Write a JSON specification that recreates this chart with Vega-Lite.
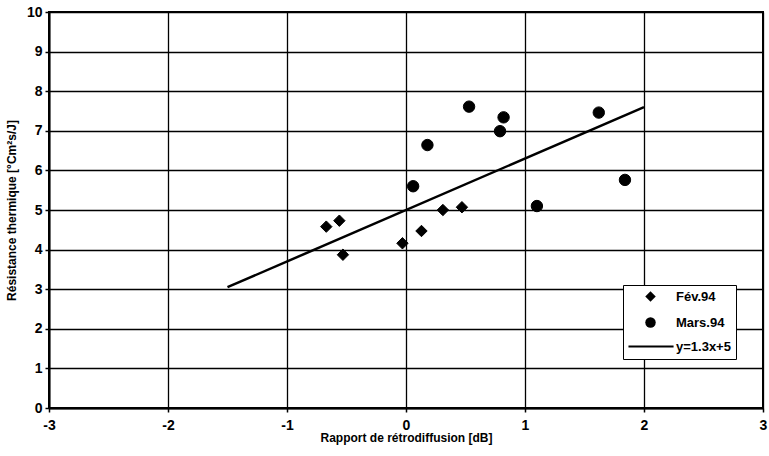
{
  "$schema": "https://vega.github.io/schema/vega-lite/v6.json",
  "width": 714,
  "height": 396,
  "autosize": "none",
  "padding": {"left": 49, "top": 12, "right": 6, "bottom": 48},
  "background": "white",
  "config": {
    "view": {"stroke": "black", "strokeWidth": 2},
    "font": "Liberation Sans",
    "axis": {
      "gridColor": "black", "gridOpacity": 1, "gridWidth": 1.3,
      "domainColor": "black", "domainWidth": 2,
      "tickColor": "black", "tickWidth": 1.5, "tickSize": 4,
      "labelFont": "Liberation Sans", "labelFontWeight": "bold", "labelFontSize": 14, "labelColor": "black",
      "titleFont": "Liberation Sans", "titleFontWeight": "bold", "titleFontSize": 12, "titleColor": "black"
    }
  },
  "layer": [
    {
      "data": {"values": [
        {"x": -1.5, "y": 3.05},
        {"x": 2.0, "y": 7.6}
      ]},
      "mark": {"type": "line", "color": "black", "strokeWidth": 2.5},
      "encoding": {
        "x": {
          "field": "x", "type": "quantitative",
          "scale": {"domain": [-3, 3], "nice": false, "zero": false},
          "axis": {"title": "Rapport de rétrodiffusion [dB]", "values": [-3, -2, -1, 0, 1, 2, 3], "labelExpr": "'' + datum.value", "labelPadding": 6, "titlePadding": 0, "labelFlush": false}
        },
        "y": {
          "field": "y", "type": "quantitative",
          "scale": {"domain": [0, 10], "nice": false},
          "axis": {"title": "Résistance thermique [°Cm²s/J]", "values": [0,1,2,3,4,5,6,7,8,9,10], "labelPadding": 3, "titlePadding": 8}
        }
      }
    },
    {
      "data": {"values": [
        {"x": -0.67, "y": 4.58, "series": "Fév.94"},
        {"x": -0.56, "y": 4.73, "series": "Fév.94"},
        {"x": -0.53, "y": 3.87, "series": "Fév.94"},
        {"x": -0.03, "y": 4.16, "series": "Fév.94"},
        {"x": 0.13, "y": 4.47, "series": "Fév.94"},
        {"x": 0.31, "y": 5.0, "series": "Fév.94"},
        {"x": 0.47, "y": 5.07, "series": "Fév.94"},
        {"x": 0.06, "y": 5.6, "series": "Mars.94"},
        {"x": 0.18, "y": 6.64, "series": "Mars.94"},
        {"x": 0.53, "y": 7.61, "series": "Mars.94"},
        {"x": 0.82, "y": 7.34, "series": "Mars.94"},
        {"x": 0.79, "y": 6.99, "series": "Mars.94"},
        {"x": 1.10, "y": 5.10, "series": "Mars.94"},
        {"x": 1.62, "y": 7.46, "series": "Mars.94"},
        {"x": 1.84, "y": 5.76, "series": "Mars.94"}
      ]},
      "mark": {"type": "point", "filled": true, "fill": "black", "stroke": "black", "strokeWidth": 1, "opacity": 1, "size": 130},
      "encoding": {
        "x": {
          "field": "x", "type": "quantitative",
          "scale": {"domain": [-3, 3], "nice": false, "zero": false},
          "axis": {"title": "Rapport de rétrodiffusion [dB]", "values": [-3, -2, -1, 0, 1, 2, 3], "labelExpr": "'' + datum.value", "labelPadding": 6, "titlePadding": 0, "labelFlush": false}
        },
        "y": {
          "field": "y", "type": "quantitative",
          "scale": {"domain": [0, 10], "nice": false},
          "axis": {"title": "Résistance thermique [°Cm²s/J]", "values": [0,1,2,3,4,5,6,7,8,9,10], "labelPadding": 3, "titlePadding": 8}
        },
        "shape": {
          "field": "series", "type": "nominal",
          "scale": {"domain": ["Fév.94", "Mars.94", "y=1.3x+5"], "range": ["diamond", "circle", "M-4.2,-0.18H4.4V0.18H-4.2Z"]},
          "legend": {
            "title": null,
            "orient": "none",
            "legendX": 574,
            "legendY": 273,
            "fillColor": "white",
            "strokeColor": "black",
            "padding": 5,
            "rowPadding": 9,
            "symbolFillColor": "black",
            "symbolStrokeColor": "black",
            "symbolStrokeWidth": 1.5,
            "symbolSize": 110,
            "symbolOpacity": 1,
            "symbolOffset": 16,
            "labelFont": "Liberation Sans",
            "labelFontWeight": "bold",
            "labelFontSize": 13,
            "labelColor": "black",
            "labelOffset": 19
          }
        }
      }
    }
  ]
}
